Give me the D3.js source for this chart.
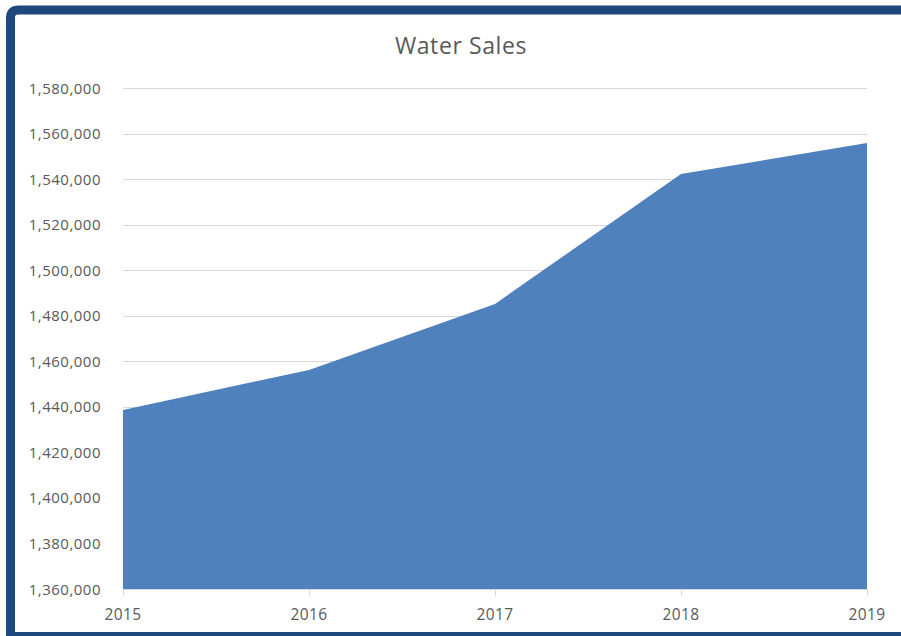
<!DOCTYPE html>
<html>
<head>
<meta charset="utf-8">
<script src="https://cdn.jsdelivr.net/npm/d3@7"></script>
<style>
  body { margin: 0; background: #fff; }
  text { font-family: "Open Sans", "Noto Sans", sans-serif; }
</style>
</head>
<body>
<div class="render"></div>
<script>
var years = ['2015', '2016', '2017', '2018', '2019'];
var sales = [1438600, 1456200, 1485200, 1542200, 1555900];
var yTicks = [1360000, 1380000, 1400000, 1420000, 1440000, 1460000, 1480000, 1500000, 1520000, 1540000, 1560000, 1580000];

var W = 901, H = 636;
var margin = { top: 88, right: 34, bottom: 47, left: 123 };

var svg = d3.select('.render').append('svg')
    .attr('width', W).attr('height', H);

// frame
svg.append('rect').attr('x', 0).attr('y', 0).attr('width', W).attr('height', H).attr('fill', '#fff');
svg.append('path')
    .attr('d', 'M10.5,636 L10.5,18 Q10.5,10 18.5,10 L901,10')
    .attr('fill', 'none').attr('stroke', '#1f497d').attr('stroke-width', 9);
svg.append('rect').attr('x', 6).attr('y', 632).attr('width', W - 6).attr('height', 4).attr('fill', '#1f497d');

var x = d3.scalePoint().domain(years).range([margin.left, W - margin.right]);
var y = d3.scaleLinear().domain([1360000, 1580000]).range([H - margin.bottom, margin.top]);

var fmt = d3.format(',');

// gridlines
svg.append('g').selectAll('line').data(yTicks.slice(1)).enter().append('line')
    .attr('x1', margin.left).attr('x2', W - margin.right)
    .attr('y1', function(d) { return Math.round(y(d)) + 0.5; })
    .attr('y2', function(d) { return Math.round(y(d)) + 0.5; })
    .attr('stroke', '#d9d9d9').attr('stroke-width', 1);

// area
var area = d3.area()
    .x(function(d, i) { return x(years[i]); })
    .y0(y(1360000))
    .y1(function(d) { return y(d); });

svg.append('path').datum(sales)
    .attr('d', area)
    .attr('fill', '#4f81bd');

// y labels
svg.append('g').selectAll('text').data(yTicks).enter().append('text')
    .attr('x', 101)
    .attr('y', function(d) { return y(d) + 5.5; })
    .attr('text-anchor', 'end')
    .attr('font-size', 15)
    .attr('letter-spacing', 0.5)
    .attr('fill', '#595959')
    .text(function(d) { return fmt(d); });

// x axis
var base = y(1360000);
svg.append('line').attr('x1', margin.left).attr('x2', W - margin.right)
    .attr('y1', base + 0.5).attr('y2', base + 0.5)
    .attr('stroke', '#d9d9d9');
svg.append('g').selectAll('line').data(years).enter().append('line')
    .attr('x1', function(d) { return Math.round(x(d)) + 0.5; })
    .attr('x2', function(d) { return Math.round(x(d)) + 0.5; })
    .attr('y1', base).attr('y2', base + 7)
    .attr('stroke', '#d9d9d9');
svg.append('g').selectAll('text').data(years).enter().append('text')
    .attr('x', function(d) { return x(d); })
    .attr('y', base + 31)
    .attr('text-anchor', 'middle')
    .attr('font-size', 15.5)
    .attr('letter-spacing', 0.4)
    .attr('fill', '#595959')
    .text(function(d) { return d; });

// title
svg.append('text')
    .attr('x', 461).attr('y', 54)
    .attr('text-anchor', 'middle')
    .attr('font-size', 23)
    .attr('letter-spacing', 0.6)
    .attr('fill', '#595959')
    .text('Water Sales');
</script>
</body>
</html>
